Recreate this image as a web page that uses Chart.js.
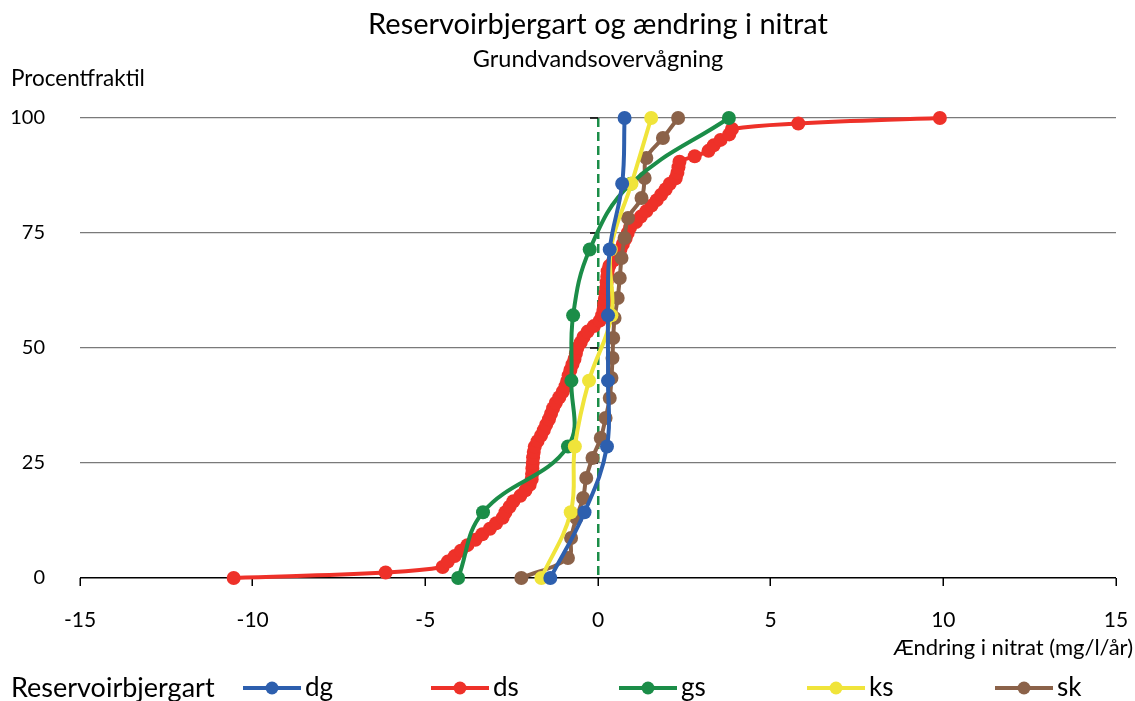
<!DOCTYPE html>
<html>
<head>
<meta charset="utf-8">
<script src="https://cdn.jsdelivr.net/npm/chart.js@4/dist/chart.umd.min.js"></script>
<style>
  html, body { margin: 0; padding: 0; background: #ffffff; }
  #wrap { width: 1135px; height: 701px; position: relative; }
</style>
</head>
<body>
<div id="wrap"><canvas id="chart" width="1135" height="701"></canvas></div>
<script>
// Change in nitrate (mg/l/år) per reservoir rock type, with percentile rank
const dgChange = [-1.38, -0.39, 0.26, 0.29, 0.29, 0.34, 0.70, 0.77];
const dgPct    = [0, 14.3, 28.6, 42.9, 57.1, 71.4, 85.7, 100];

const gsChange = [-4.05, -3.33, -0.87, -0.77, -0.72, -0.24, 0.95, 3.79];
const gsPct    = [0, 14.3, 28.6, 42.9, 57.1, 71.4, 85.7, 100];

const ksChange = [-1.64, -0.79, -0.67, -0.26, 0.39, 0.37, 0.97, 1.54];
const ksPct    = [0, 14.3, 28.6, 42.9, 57.1, 71.4, 85.7, 100];

const skChange = [-2.22, -0.87, -0.78, -0.63, -0.43, -0.34, -0.16, 0.08, 0.22, 0.34, 0.39, 0.42,
                  0.44, 0.48, 0.57, 0.63, 0.68, 0.77, 0.87, 1.26, 1.35, 1.40, 1.88, 2.32];
const skPct    = [0, 4.35, 8.7, 13.04, 17.39, 21.74, 26.09, 30.43, 34.78, 39.13, 43.48, 47.83,
                  52.17, 56.52, 60.87, 65.22, 69.57, 73.91, 78.26, 82.61, 86.96, 91.3, 95.65, 100];

const dsChange = [-10.55, -6.15, -4.5, -4.35, -4.15, -3.97, -3.78, -3.55, -3.35, -3.13,
                  -2.95, -2.76, -2.68, -2.56, -2.45, -2.25, -2.1, -1.98, -1.92, -1.91,
                  -1.9, -1.89, -1.88, -1.86, -1.83, -1.75, -1.65, -1.57, -1.5, -1.42,
                  -1.36, -1.3, -1.22, -1.12, -1.02, -0.94, -0.89, -0.85, -0.8, -0.74,
                  -0.68, -0.64, -0.6, -0.5, -0.42, -0.3, -0.12, 0.05, 0.12, 0.16,
                  0.18, 0.2, 0.22, 0.24, 0.25, 0.27, 0.28, 0.33, 0.45, 0.57,
                  0.65, 0.72, 0.8, 0.86, 0.93, 1.1, 1.24, 1.4, 1.55, 1.7,
                  1.83, 1.96, 2.08, 2.25, 2.3, 2.33, 2.36, 2.8, 3.2, 3.35,
                  3.55, 3.8, 3.88, 5.8, 9.9];
const dsPct    = [0, 1.19, 2.38, 3.57, 4.76, 5.95, 7.14, 8.33, 9.52, 10.71,
                  11.9, 13.1, 14.29, 15.48, 16.67, 17.86, 19.05, 20.24, 21.43, 22.62,
                  23.81, 25, 26.19, 27.38, 28.57, 29.76, 30.95, 32.14, 33.33, 34.52,
                  35.71, 36.9, 38.1, 39.29, 40.48, 41.67, 42.86, 44.05, 45.24, 46.43,
                  47.62, 48.81, 50, 51.19, 52.38, 53.57, 54.76, 55.95, 57.14, 58.33,
                  59.52, 60.71, 61.9, 63.1, 64.29, 65.48, 66.67, 67.86, 69.05, 70.24,
                  71.43, 72.62, 73.81, 75, 76.19, 77.38, 78.57, 79.76, 80.95, 82.14,
                  83.33, 84.52, 85.71, 86.9, 88.1, 89.29, 90.48, 91.67, 92.86, 94.05,
                  95.24, 96.43, 97.62, 98.81, 100];

const xTickStep = 5;
const yTickStep = 25;

const FONT = 'Lato, "Open Sans", "DejaVu Sans", sans-serif';
const COLORS = { dg: '#2d5fae', ds: '#ee3129', gs: '#1b8d48', ks: '#f0e43a', sk: '#8b6249' };

function pairs(xs, ys) { return xs.map((x, i) => ({ x: x, y: ys[i] })); }

function series(label, xs, ys, color, order) {
  return {
    label: label,
    data: pairs(xs, ys),
    showLine: true,
    borderColor: color,
    backgroundColor: color,
    borderWidth: 4,
    tension: 0.4,
    pointRadius: 7,
    pointHoverRadius: 7,
    pointBorderWidth: 0,
    pointBackgroundColor: color,
    clip: false,
    order: order
  };
}

// Extra drawing: tick marks on the zero axis, axis captions and the legend row
const decor = {
  id: 'decor',
  beforeDatasetsDraw(chart) {
    const ctx = chart.ctx;
    const xs = chart.scales.x, ys = chart.scales.y;
    const x0 = xs.getPixelForValue(0);
    ctx.save();
    ctx.strokeStyle = '#000';
    ctx.lineWidth = 1.5;
    ys.ticks.forEach(t => {
      if (t.value === 0) return;
      const y = ys.getPixelForValue(t.value);
      ctx.beginPath();
      ctx.moveTo(x0 - 8, y);
      ctx.lineTo(x0, y);
      ctx.stroke();
    });
    ctx.restore();
  },
  afterDraw(chart) {
    const ctx = chart.ctx;
    ctx.save();
    ctx.fillStyle = '#000';
    ctx.textBaseline = 'middle';

    ctx.font = '22.5px ' + FONT;
    ctx.textAlign = 'left';
    ctx.fillText('Procentfraktil', 11, 79);

    ctx.font = '22px ' + FONT;
    ctx.textAlign = 'right';
    ctx.fillText('Ændring i nitrat (mg/l/år)', 1133, 648);

    // legend row
    ctx.textAlign = 'left';
    ctx.font = '27px ' + FONT;
    ctx.fillText('Reservoirbjergart', 11, 688);
    ctx.font = '26px ' + FONT;
    chart.data.datasets.forEach((ds, i) => {
      const x = 243 + i * 188;
      const y = 688;
      ctx.strokeStyle = ds.borderColor;
      ctx.lineWidth = 4;
      ctx.beginPath();
      ctx.moveTo(x, y);
      ctx.lineTo(x + 58, y);
      ctx.stroke();
      ctx.fillStyle = ds.borderColor;
      ctx.beginPath();
      ctx.arc(x + 29, y, 6.5, 0, Math.PI * 2);
      ctx.fill();
      ctx.fillStyle = '#000';
      ctx.fillText(ds.label, x + 62, y);
    });
    ctx.restore();
  }
};

new Chart(document.getElementById('chart'), {
  type: 'scatter',
  data: {
    datasets: [
      series('dg', dgChange, dgPct, COLORS.dg, 0),
      series('ds', dsChange, dsPct, COLORS.ds, 4),
      series('gs', gsChange, gsPct, COLORS.gs, 2),
      series('ks', ksChange, ksPct, COLORS.ks, 1),
      series('sk', skChange, skPct, COLORS.sk, 3)
    ]
  },
  options: {
    responsive: false,
    animation: false,
    devicePixelRatio: 1,
    layout: { padding: { left: 12, right: 19, top: 0, bottom: 69 } },
    plugins: {
      legend: { display: false },
      tooltip: { enabled: false },
      title: {
        display: true,
        fullSize: false,
        text: 'Reservoirbjergart og ændring i nitrat',
        color: '#000',
        font: { family: FONT, size: 29, weight: 'normal' },
        padding: { top: 7, bottom: 0 }
      },
      subtitle: {
        display: true,
        fullSize: false,
        text: 'Grundvandsovervågning',
        color: '#000',
        font: { family: FONT, size: 23.5, weight: 'normal' },
        padding: { top: 4, bottom: 44 }
      }
    },
    scales: {
      x: {
        type: 'linear',
        min: -15,
        max: 15,
        ticks: {
          stepSize: xTickStep,
          color: '#000',
          font: { family: FONT, size: 21 },
          padding: 22,
          maxRotation: 0
        },
        grid: {
          color: c => (c.tick && c.tick.value === 0) ? '#1b8d48' : 'rgba(0,0,0,0)',
          lineWidth: 2.5,
          drawOnChartArea: true,
          drawTicks: true,
          tickLength: 8,
          tickColor: '#000',
          tickWidth: 1.5
        },
        border: { display: false, dash: [9, 5] },
        afterFit: s => { s.height = 54; s.paddingLeft = 12; s.paddingRight = 12; }
      },
      y: {
        type: 'linear',
        min: 0,
        max: 100,
        ticks: {
          stepSize: yTickStep,
          color: '#000',
          font: { family: FONT, size: 20 },
          padding: 35
        },
        grid: {
          color: c => (c.tick && c.tick.value === 0) ? '#000' : '#7a7a7a',
          lineWidth: c => (c.tick && c.tick.value === 0) ? 1.6 : 1.3,
          drawTicks: false
        },
        border: { display: false },
        afterFit: s => { s.width = 68; }
      }
    }
  },
  plugins: [decor]
});
</script>
</body>
</html>
